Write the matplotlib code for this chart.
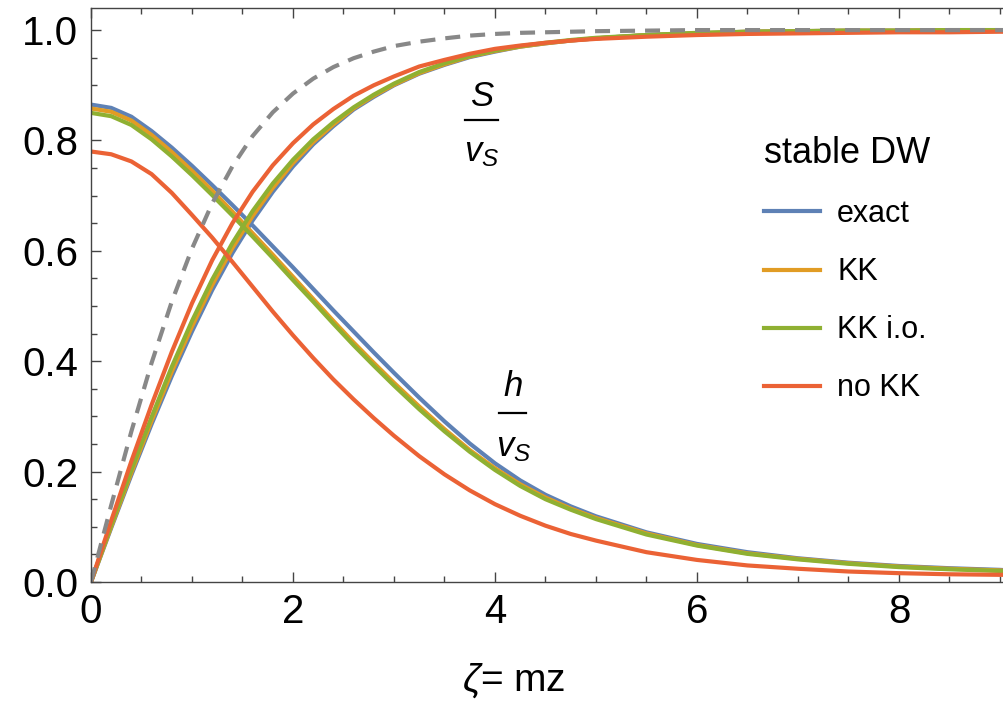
import matplotlib
matplotlib.use("Agg")
import matplotlib.pyplot as plt
from matplotlib.ticker import MultipleLocator

# values
zeta = [0, 0.2, 0.4, 0.6, 0.8, 1.0, 1.2, 1.4, 1.6, 1.8, 2.0, 2.2, 2.4, 2.6, 2.8, 3.0,
        3.25, 3.5, 3.75, 4.0, 4.25, 4.5, 4.75, 5.0,
        5.5, 6.0, 6.5, 7.0, 7.5, 8.0, 8.5, 9.0, 9.1]

# h / v_S profiles
h_exact = [0.865, 0.859, 0.843, 0.817, 0.787, 0.754, 0.719, 0.683, 0.646, 0.608, 0.570,
           0.531, 0.492, 0.454, 0.416, 0.379,
           0.334, 0.291, 0.251, 0.215, 0.184, 0.158, 0.137, 0.119,
           0.090, 0.069, 0.054, 0.043, 0.035, 0.029, 0.025, 0.022, 0.021]
h_kk = [0.858, 0.852, 0.836, 0.810, 0.779, 0.745, 0.709, 0.671, 0.632, 0.593, 0.553,
        0.513, 0.473, 0.434, 0.397, 0.361,
        0.318, 0.277, 0.239, 0.206, 0.177, 0.153, 0.133, 0.116,
        0.088, 0.067, 0.052, 0.042, 0.034, 0.028, 0.024, 0.021, 0.020]
h_kkio = [0.850, 0.844, 0.828, 0.802, 0.771, 0.737, 0.701, 0.664, 0.626, 0.587, 0.547,
          0.508, 0.468, 0.429, 0.392, 0.356,
          0.313, 0.273, 0.236, 0.203, 0.174, 0.150, 0.131, 0.114,
          0.086, 0.066, 0.051, 0.041, 0.033, 0.027, 0.023, 0.020, 0.019]
h_nokk = [0.780, 0.775, 0.762, 0.739, 0.705, 0.665, 0.624, 0.580, 0.535, 0.490, 0.447,
          0.406, 0.367, 0.331, 0.297, 0.265,
          0.228, 0.195, 0.166, 0.141, 0.120, 0.102, 0.087, 0.075,
          0.054, 0.040, 0.030, 0.024, 0.019, 0.016, 0.014, 0.013, 0.013]

# S / v_S profiles
s_exact = [0, 0.098, 0.194, 0.286, 0.373, 0.454, 0.529, 0.596, 0.655, 0.707, 0.753,
           0.793, 0.826, 0.856, 0.879, 0.900,
           0.921, 0.937, 0.951, 0.961, 0.970, 0.976, 0.981, 0.985,
           0.991, 0.994, 0.997, 0.998, 0.999, 0.999, 1.0, 1.0, 1.0]
s_kk = [0, 0.100, 0.198, 0.292, 0.381, 0.463, 0.538, 0.605, 0.663, 0.714, 0.759,
        0.797, 0.829, 0.858, 0.881, 0.901,
        0.922, 0.938, 0.952, 0.962, 0.970, 0.976, 0.981, 0.985,
        0.991, 0.994, 0.997, 0.998, 0.999, 0.999, 1.0, 1.0, 1.0]
s_kkio = [0, 0.103, 0.203, 0.299, 0.390, 0.473, 0.548, 0.614, 0.672, 0.722, 0.765,
          0.802, 0.833, 0.860, 0.883, 0.903,
          0.924, 0.940, 0.953, 0.963, 0.971, 0.977, 0.982, 0.986,
          0.991, 0.995, 0.997, 0.998, 0.999, 0.999, 1.0, 1.0, 1.0]
s_nokk = [0, 0.111, 0.219, 0.321, 0.417, 0.505, 0.583, 0.650, 0.707, 0.755, 0.795,
          0.829, 0.857, 0.881, 0.900, 0.916,
          0.934, 0.946, 0.957, 0.966, 0.972, 0.977, 0.981, 0.984,
          0.988, 0.991, 0.993, 0.994, 0.995, 0.996, 0.996, 0.997, 0.997]
s_dashed = [0, 0.139, 0.273, 0.397, 0.508, 0.604, 0.686, 0.753, 0.808, 0.851, 0.885,
            0.912, 0.933, 0.949, 0.961, 0.971,
            0.979, 0.985, 0.990, 0.993, 0.995, 0.996, 0.997, 0.998,
            0.999, 1.0, 1.0, 1.0, 1.0, 1.0, 1.0, 1.0, 1.0]

labels = ["exact", "KK", "KK i.o.", "no KK"]
colors = ["#5E81B5", "#E19C24", "#8FB032", "#EB6235"]

plt.rcParams['font.family'] = ['Liberation Sans', 'DejaVu Sans']
plt.rcParams['mathtext.fontset'] = 'custom'
plt.rcParams['mathtext.it'] = 'Liberation Sans:italic'
plt.rcParams['mathtext.rm'] = 'Liberation Sans'

fig = plt.figure(figsize=(10.04, 7.03), dpi=100)
ax = fig.add_axes([91 / 1004, 1 - 582 / 703, 1 - 91 / 1004, (582 - 8) / 703])

h_sets = [h_exact, h_kk, h_kkio, h_nokk]
s_sets = [s_exact, s_kk, s_kkio, s_nokk]
for hv, sv, lab, c in zip(h_sets, s_sets, labels, colors):
    ax.plot(zeta, sv, color=c, lw=3.0)
    ax.plot(zeta, hv, color=c, lw=3.0, label=lab)

ax.plot(zeta, s_dashed, color="#888888", lw=3.0, dashes=(3.6, 2.4))

ax.set_xlim(0, 9.04)
ax.set_ylim(0, 1.04)

ax.xaxis.set_major_locator(MultipleLocator(2))
ax.xaxis.set_minor_locator(MultipleLocator(0.5))
ax.yaxis.set_major_locator(MultipleLocator(0.2))
ax.yaxis.set_minor_locator(MultipleLocator(0.05))
ax.yaxis.set_major_formatter(plt.FuncFormatter(lambda v, p: f"{v:.1f}"))

ax.tick_params(which='both', direction='in', top=True, right=False,
               color="#444444", width=1.0, labelsize=29)
ax.tick_params(which='major', length=7)
ax.tick_params(which='minor', length=4)
ax.tick_params(axis='y', pad=9)
ax.tick_params(axis='x', pad=8)
for side in ['left', 'bottom', 'top']:
    ax.spines[side].set_color("#444444")
    ax.spines[side].set_linewidth(1.0)
ax.spines['right'].set_visible(False)

ax.set_xlabel(r"$\zeta$= mz", fontsize=28)
ax.xaxis.set_label_coords(0.463, -0.138)

# fraction labels S/v_S and h/v_S
ax.text(3.88, 0.880, "$S$", fontsize=25, ha='center', va='center')
ax.plot([3.70, 4.03], [0.837, 0.837], color='black', lw=1.6)
ax.text(3.87, 0.779, "$v_S$", fontsize=25, ha='center', va='center')

ax.text(4.18, 0.355, "$h$", fontsize=25, ha='center', va='center')
ax.plot([4.04, 4.31], [0.306, 0.306], color='black', lw=1.6)
ax.text(4.18, 0.243, "$v_S$", fontsize=25, ha='center', va='center')

leg = ax.legend(loc='upper left', bbox_to_anchor=(764 / 1004, 1 - 136 / 703),
                bbox_transform=fig.transFigure, frameon=False, fontsize=22,
                title="stable DW", title_fontsize=26, alignment='left',
                handlelength=1.83, handletextpad=0.56, labelspacing=0.92,
                borderaxespad=0, borderpad=0)
for line in leg.get_lines():
    line.set_linewidth(3.0)

fig.savefig("out.png", dpi=100)
